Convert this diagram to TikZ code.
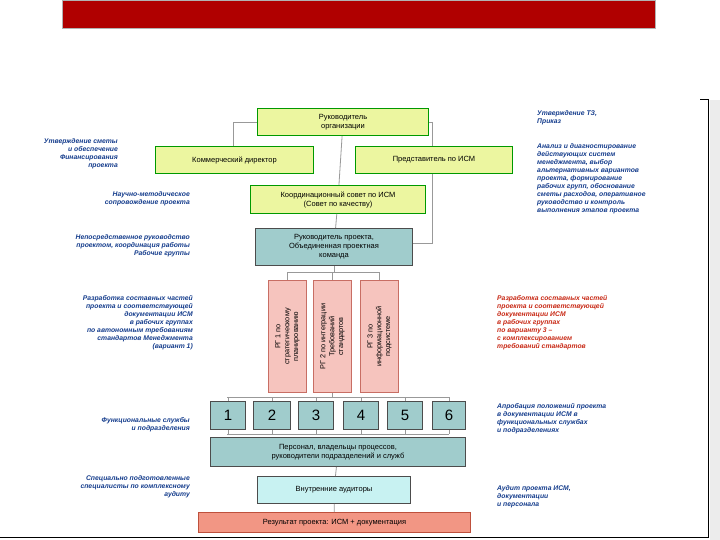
\documentclass[tikz,border=0pt]{standalone}
\usepackage{fontspec}
\setmainfont{Liberation Sans}
\begin{document}
\begin{tikzpicture}[x=1pt,y=-1pt,
  bx/.style={draw=#1!60!black,line width=1pt,inner sep=1pt,align=center,font=\fontsize{7.5}{9}\selectfont,anchor=north west},
  yel/.style={bx=green,fill={rgb,255:red,236;green,246;blue,160}},
  teal/.style={bx=gray,fill={rgb,255:red,160;green,204;blue,204}},
  pink/.style={bx=red,fill={rgb,255:red,246;green,196;blue,190},draw={rgb,255:red,200;green,110;blue,100}},
  ln/.style={draw=gray!80,line width=0.8pt},
  lt/.style={font=\fontsize{6.8}{8}\selectfont\bfseries\itshape,text={rgb,255:red,20;green,60;blue,140},align=right,anchor=north east,inner sep=0pt},
  rt/.style={lt,align=left,anchor=north west},
  redt/.style={rt,text={rgb,255:red,200;green,40;blue,20}}]
\useasboundingbox (0,0) rectangle (720,540);
\fill[white] (0,0) rectangle (720,540);
\fill[gray!15] (710,100) rectangle (720,540);
\node[draw=gray!60,fill={rgb,255:red,176;green,0;blue,0},minimum width=593pt,minimum height=28pt,anchor=north west,inner sep=0pt] (bar) at (62,0) {};
\draw[line width=1pt] (0,537) -- (708,537) -- (708,100) -- (700,100);
\coordinate (la) at (233,122); \coordinate (lb) at (233,146);
\coordinate (ra) at (432,122); \coordinate (rb) at (432,243);
\coordinate (re) at (413,243);
\coordinate (c1) at (290,272);
\draw[ln] (ra) -- (rb) -- (re);
\node[yel,minimum width=171pt,minimum height=27pt] (org) at (257,108) {Руководитель\\организации};
\node[yel,minimum width=158pt,minimum height=27pt] (com) at (155,146) {Коммерческий директор};
\node[yel,minimum width=157pt,minimum height=27pt] (rep) at (355,146) {Представитель по ИСМ};
\node[yel,minimum width=175pt,minimum height=28pt] (coord) at (250,185) {Координационный совет по ИСМ\\(Совет по качеству)};
\node[teal,minimum width=157pt,minimum height=37pt] (proj) at (255,228) {Руководитель проекта,\\Объединенная проектная\\команда};
\draw[ln] (org.west) -- (la) -- (lb);
\draw[ln] (org.east) -- (ra);
\draw[ln] (org) -- (coord) (coord) -- (proj);
\node[pink,minimum width=38pt,minimum height=112pt] (rg1) at (268,280) {};
\node[pink,minimum width=38pt,minimum height=112pt] (rg2) at (313,280) {};
\node[pink,minimum width=38pt,minimum height=112pt] (rg3) at (360,280) {};
\node[rotate=90,align=center,font=\fontsize{7.3}{8.8}\selectfont] (t1) at (rg1.center) {РГ 1 по\\стратегическому\\планированию};
\node[rotate=90,align=center,font=\fontsize{7.3}{8.8}\selectfont] (t2) at (rg2.center) {РГ 2 по интеграции\\Требований\\стандартов};
\node[rotate=90,align=center,font=\fontsize{7.3}{8.8}\selectfont] (t3) at (rg3.center) {РГ 3 по\\информационной\\подсистеме};
\draw[ln] (proj.south) -- (proj.south |- c1);
\draw[ln] (287,272) -- (379,272);
\draw[ln] (287,280) -- (287,272) (rg2.north) -- (rg2.north |- c1) (379,280) -- (379,272);
\foreach \n/\x/\w in {1/210/35,2/253/37,3/298/35,4/343/35,5/387/35,6/432/33}{
  \node[teal,minimum width=\w pt,minimum height=28pt,font=\fontsize{15}{15}\selectfont] (n\n) at (\x,401) {\n};
}
\draw[ln] (227,397) -- (449,397) (227,434) -- (449,434);
\foreach \n in {1,...,6}{\draw[ln] (n\n.north) -- ++(0,-4) (n\n.south) -- ++(0,4);}
\draw[ln] (rg2.south) -- ++(0,5);
\node[teal,minimum width=255pt,minimum height=29pt] (pers) at (210,437) {Персонал, владельцы процессов,\\руководители подразделений и служб};
\node[bx=gray,fill={rgb,255:red,200;green,242;blue,242},minimum width=153pt,minimum height=27pt] (aud) at (257,476) {Внутренние аудиторы};
\node[bx=red,fill={rgb,255:red,242;green,150;blue,132},draw={rgb,255:red,190;green,80;blue,60},minimum width=272pt,minimum height=20pt] (res) at (198,512) {Результат проекта: ИСМ + документация};
\draw[ln] (pers) -- (aud) (aud) -- (res);
\node[lt] (l1) at (118,138) {Утверждение сметы\\и обеспечение\\Финансирования\\проекта};
\node[lt] (l2) at (190,191) {Научно-методическое\\сопровождение проекта};
\node[lt] (l3) at (190,234) {Непосредственное руководство\\проектом, координация работы\\Рабочие группы};
\node[lt] (l4) at (193,295) {Разработка составных частей\\проекта и соответствующей\\документации ИСМ\\в рабочих группах\\по автономным требованиям\\стандартов Менеджмента\\(вариант 1)};
\node[lt] (l5) at (190,417) {Функциональные службы\\и подразделения};
\node[lt] (l6) at (190,475) {Специально подготовленные\\специалисты по комплексному\\аудиту};
\node[rt] (r1) at (537,110) {Утверждение ТЗ,\\Приказ};
\node[rt] (r2) at (537,143) {Анализ и диагностирование\\действующих систем\\менеджмента, выбор\\альтернативных вариантов\\проекта, формирование\\рабочих групп, обоснование\\сметы расходов, оперативное\\руководство и контроль\\выполнения этапов проекта};
\node[redt] (r3) at (497,295) {Разработка составных частей\\проекта и соответствующей\\документации ИСМ\\в рабочих группах\\по варианту 3 –\\с комплексированием\\требований стандартов};
\node[rt] (r4) at (497,403) {Апробация положений проекта\\в документации ИСМ в\\функциональных службах\\и подразделениях};
\node[rt] (r5) at (497,485) {Аудит проекта ИСМ,\\документации\\и персонала};
\end{tikzpicture}
\end{document}
